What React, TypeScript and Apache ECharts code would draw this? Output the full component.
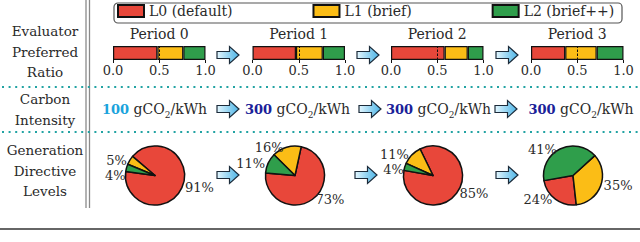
import React, { useEffect, useRef } from "react";
import * as echarts from "echarts";

// ---------- data ----------
const levels = ["L0 (default)", "L1 (brief)", "L2 (brief++)"];
const periods = ["Period 0", "Period 1", "Period 2", "Period 3"];
const barL0 = [0.48, 0.47, 0.58, 0.37];
const barL1 = [0.28, 0.29, 0.25, 0.34];
const barL2 = [0.24, 0.24, 0.17, 0.29];
const barTicks = [0, 0.5, 1.0];
const pieL0 = [91, 73, 85, 24];
const pieL1 = [5, 16, 11, 35];
const pieL2 = [4, 11, 4, 41];
const carbon = [100, 300, 300, 300];
const rowLabels = ["Evaluator\nPreferred\nRatio", "Carbon\nIntensity", "Generation\nDirective\nLevels"];

// ---------- layout / style ----------
const COLORS = ["#e8473a", "#fbbd16", "#2f9e4b"];
const FONT = "DejaVu Serif";
const TXT = "#2a2a2a";
const BAR_LEFT = [113, 252.5, 391, 531];
const BAR_W = 92.5;
const BAR_TOP = 46;
const BAR_H = 14;
const PIE_CX = [155, 295, 433, 573];
const PIE_CY = 175.5;
const PIE_R = 29.5;
const PIE_START = [172, 175, 170, 190];
const CARBON_X = [102, 245, 386, 528.5];
const CARBON_Y = 109;
const ARROWS = [
  { xs: [217, 357, 496], y: 55 },
  { xs: [217, 359, 495], y: 109 },
  { xs: [217, 355, 496], y: 175 },
];

function arrow(x: number, yc: number) {
  return {
    type: "polygon",
    x,
    y: yc - 8.5,
    z: 10,
    shape: {
      points: [
        [0, 5],
        [12.5, 5],
        [12.5, 0],
        [22, 8.5],
        [12.5, 17],
        [12.5, 12],
        [0, 12],
      ],
    },
    style: {
      fill: new echarts.graphic.LinearGradient(0, 0, 1, 0, [
        { offset: 0, color: "#e4f7ff" },
        { offset: 1, color: "#4cb4e6" },
      ]),
      stroke: "#1c2b3a",
      lineWidth: 1.2,
    },
  };
}

export default function App() {
  const ref = useRef<HTMLDivElement>(null);
  useEffect(() => {
    if (!ref.current) return;
    const chart = echarts.init(ref.current, undefined, { renderer: "svg" });

    const grids: any[] = [];
    const xAxes: any[] = [];
    const yAxes: any[] = [];
    const series: any[] = [];
    const barSets = [barL0, barL1, barL2];
    const pieSets = [pieL0, pieL1, pieL2];

    periods.forEach((p, i) => {
      grids.push({ left: BAR_LEFT[i], top: BAR_TOP, width: BAR_W, height: BAR_H });
      xAxes.push({
        type: "value",
        gridIndex: i,
        min: barTicks[0],
        max: barTicks[barTicks.length - 1],
        interval: barTicks[1] - barTicks[0],
        axisLine: { show: false },
        axisTick: { show: true, length: 3, lineStyle: { color: "#111", width: 1 } },
        splitLine: { show: false },
        axisLabel: {
          fontFamily: FONT,
          fontSize: 13,
          color: TXT,
          margin: 4,
          formatter: (v: number) => v.toFixed(1),
        },
      });
      yAxes.push({ type: "category", gridIndex: i, data: [p], show: false });
      barSets.forEach((vals, k) => {
        const s: any = {
          type: "bar",
          name: levels[k],
          xAxisIndex: i,
          yAxisIndex: i,
          stack: "s" + i,
          barWidth: "100%",
          data: [vals[i]],
          itemStyle: { color: COLORS[k], borderColor: "#111", borderWidth: 1.2 },
        };
        if (k === barSets.length - 1) {
          s.markLine = {
            silent: true,
            symbol: "none",
            label: { show: false },
            lineStyle: { type: [2.5, 1.5], color: "#111", width: 1 },
            data: [{ xAxis: 0.5 }],
          };
        }
        series.push(s);
      });
      series.push({
        type: "pie",
        center: [PIE_CX[i], PIE_CY],
        radius: PIE_R,
        startAngle: PIE_START[i],
        clockwise: false,
        avoidLabelOverlap: true,
        label: {
          position: "outside",
          formatter: "{c}%",
          fontFamily: FONT,
          fontSize: 13,
          lineHeight: 6,
          color: TXT,
          overflow: "none",
          bleedMargin: 0,
          distanceToLabelLine: 3,
        },
        labelLine: { show: false, length: 0, length2: 0 },
        itemStyle: { borderColor: "#111", borderWidth: 1.5 },
        data: pieSets.map((vals, k) => ({
          name: levels[k],
          value: vals[i],
          itemStyle: { color: COLORS[k] },
        })),
      });
    });

    const graphics: any[] = [];
    // legend box
    graphics.push({
      type: "rect",
      shape: { x: 114, y: 3, width: 508, height: 20, r: 4 },
      style: { fill: "none", stroke: "#555", lineWidth: 1.2 },
    });
    // double vertical line
    [86, 89.5].forEach((x) =>
      graphics.push({
        type: "line",
        shape: { x1: x, y1: 0, x2: x, y2: 208 },
        style: { stroke: "#8a8a8a", lineWidth: 1.3 },
      })
    );
    // dotted separators
    [87, 132].forEach((y) =>
      graphics.push({
        type: "line",
        shape: { x1: 2, y1: y, x2: 640, y2: y },
        style: { stroke: "#22a3a3", lineWidth: 2, lineDash: [2, 4.6] },
      })
    );
    // bottom rule
    graphics.push({
      type: "line",
      shape: { x1: 0, y1: 229, x2: 640, y2: 229 },
      style: { stroke: "#666", lineWidth: 2 },
    });
    // row labels
    [31, 99, 150].forEach((y, r) =>
      graphics.push({
        type: "text",
        x: 45,
        y: y - 10,
        style: {
          text: rowLabels[r],
          fontFamily: FONT,
          fontSize: 13.5,
          lineHeight: 20.5,
          fill: TXT,
          align: "center",
          verticalAlign: "top",
        },
      })
    );
    // period titles
    periods.forEach((p, i) =>
      graphics.push({
        type: "text",
        x: BAR_LEFT[i] + BAR_W / 2,
        y: 33.5,
        style: {
          text: p,
          fontFamily: FONT,
          fontSize: 14,
          fill: TXT,
          align: "center",
          verticalAlign: "middle",
        },
      })
    );
    // carbon intensity
    carbon.forEach((c, i) =>
      graphics.push({
        type: "text",
        x: CARBON_X[i],
        y: CARBON_Y,
        style: {
          text: `{b|${c}}{n| gCO}{s|2}{n|/kWh}`,
          verticalAlign: "middle",
          rich: {
            b: {
              fontFamily: FONT,
              fontSize: 13,
              fontWeight: "bold",
              fill: c < 200 ? "#1aa3dc" : "#1b1f99",
              color: c < 200 ? "#1aa3dc" : "#1b1f99",
              lineHeight: 20,
            },
            n: { fontFamily: FONT, fontSize: 14, fill: TXT, color: TXT, lineHeight: 20 },
            s: {
              fontFamily: FONT,
              fontSize: 9,
              fill: TXT,
              color: TXT,
              lineHeight: 9,
              verticalAlign: "bottom",
            },
          },
        },
      })
    );
    // arrows
    ARROWS.forEach((row) => row.xs.forEach((x) => graphics.push(arrow(x, row.y))));

    chart.setOption({
      animation: false,
      backgroundColor: "#fff",
      legend: {
        data: levels,
        left: 117,
        top: 4,
        padding: 0,
        itemWidth: 26,
        itemHeight: 12,
        itemGap: 80,
        icon: "rect",
        textStyle: { fontFamily: FONT, fontSize: 14, color: TXT },
        selectedMode: false,
      },
      grid: grids,
      xAxis: xAxes,
      yAxis: yAxes,
      series,
      graphic: graphics,
    });
    return () => chart.dispose();
  }, []);
  return (
    <div
      ref={ref}
      style={{ position: "fixed", left: 0, top: 0, width: 640, height: 242, background: "#fff" }}
    />
  );
}
